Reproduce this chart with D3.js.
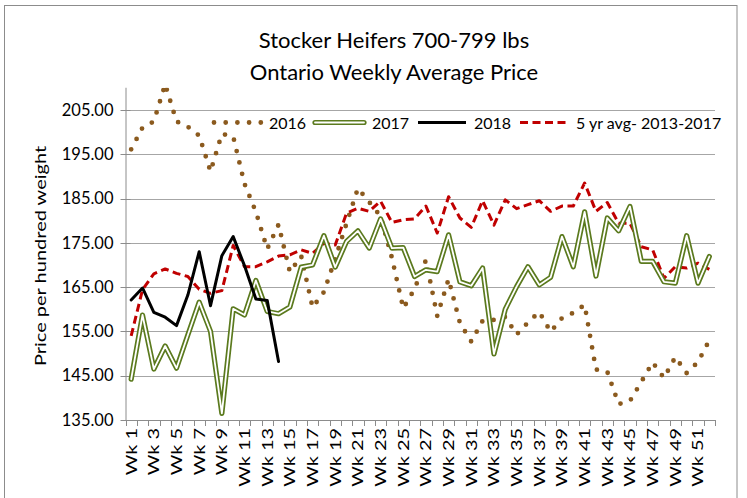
<!DOCTYPE html>
<html><head><meta charset="utf-8">
<script src="https://cdn.jsdelivr.net/npm/d3@7/dist/d3.min.js"></script>
<style>
html,body{margin:0;padding:0;background:#fff;}
text{font-family:Lato,"Open Sans",sans-serif;fill:#000;}
</style></head>
<body>
<svg id="chart" width="747" height="498"></svg>
<script>
const weeks = d3.range(1, 53).map(i => "Wk " + i);
const tickLabels = weeks.filter((d, i) => i % 2 === 0);
const yTicks = [135, 145, 155, 165, 175, 185, 195, 205];

const s2016 = [196.1, 201.0, 202.4, 210.8, 202.4, 201.2, 199.2, 191.1, 199.6, 199.0,
  188.3, 182.0, 173.6, 179.1, 168.4, 172.0, 160.4, 163.9, 171.4, 179.4,
  187.3, 184.2, 181.0, 171.6, 160.2, 164.6, 171.1, 158.5, 166.8, 156.9,
  152.7, 157.4, 157.6, 158.3, 154.3, 157.0, 159.4, 154.9, 158.0, 159.2,
  161.0, 146.4, 145.9, 138.6, 139.3, 143.6, 148.0, 144.5, 149.2, 145.6,
  148.1, 153.0];
const s2017 = [144.2, 158.7, 146.5, 151.7, 146.7, 154.2, 161.6, 155.0, 136.5, 160.1,
  158.7, 166.5, 159.5, 159.0, 160.5, 169.5, 170.0, 176.6, 169.5, 175.3,
  177.7, 173.8, 180.4, 173.8, 173.9, 167.4, 168.9, 168.5, 176.8, 166.2,
  165.3, 169.3, 149.9, 160.0, 165.1, 169.6, 165.5, 167.2, 176.4, 169.6,
  182.0, 167.5, 180.6, 177.7, 183.2, 170.8, 170.8, 166.2, 165.9, 176.6,
  165.9, 171.9];
const s2018 = [162.1, 164.8, 159.3, 158.2, 156.3, 163.2, 173.0, 160.8, 172.1, 176.4,
  169.8, 162.3, 162.0, 148.2];
const s5yr = [154.0, 164.4, 168.0, 169.1, 168.1, 167.4, 164.5, 163.6, 164.2, 174.4,
  169.6, 169.6, 170.7, 172.0, 172.3, 173.4, 172.6, 174.9, 174.5, 181.7,
  182.8, 182.1, 184.4, 179.6, 180.2, 180.4, 183.3, 177.2, 185.4, 180.6,
  178.5, 184.5, 179.0, 184.7, 182.7, 183.6, 184.5, 182.1, 183.3, 183.3,
  188.5, 182.1, 184.1, 179.4, 179.4, 174.1, 173.4, 167.0, 169.6, 169.3,
  170.4, 169.0];

const seriesNames = ["2016", "2017", "2018", "5 yr avg- 2013-2017"];

const svg = d3.select("#chart");
const L = 125.5, R = 715, T = 87.75, B = 420;

// outer frame
svg.append("rect").attr("x", 4.5).attr("y", 5.5).attr("width", 732.5).attr("height", 500)
  .attr("fill", "none").attr("stroke", "#8c8c8c").attr("stroke-width", 1);

const x = d3.scaleBand().domain(weeks).range([L, R]).paddingInner(0).paddingOuter(0);
const y = d3.scaleLinear().domain([135, 210]).range([B, T]);
const cx = d => x(d) + x.bandwidth() / 2;

// gridlines
svg.append("g").selectAll("line").data(yTicks.filter(v => v > 135)).join("line")
  .attr("x1", L).attr("x2", R).attr("y1", d => Math.round(y(d)) + 0.5).attr("y2", d => Math.round(y(d)) + 0.5)
  .attr("stroke", "#a6a6a6").attr("stroke-width", 1);

// y axis
const yAxis = d3.axisLeft(y).tickValues(yTicks).tickFormat(d3.format(".2f")).tickSize(0).tickPadding(12);
const gy = svg.append("g").attr("transform", `translate(${L},0)`).call(yAxis);
gy.select(".domain").remove();
gy.selectAll("text").style("font-size", "16.5px").style("font-family", "Lato");
svg.append("line").attr("x1", L + 0.5).attr("x2", L + 0.5).attr("y1", T).attr("y2", B)
  .attr("stroke", "#8c8c8c");
svg.append("g").selectAll("line").data(yTicks).join("line")
  .attr("x1", L - 5).attr("x2", L + 5)
  .attr("y1", d => Math.round(y(d)) + 0.5).attr("y2", d => Math.round(y(d)) + 0.5)
  .attr("stroke", "#8c8c8c");

// x axis
svg.append("line").attr("x1", L).attr("x2", R).attr("y1", B + 0.5).attr("y2", B + 0.5).attr("stroke", "#8c8c8c");
const bounds = weeks.map(w => x(w)).concat([R]);
svg.append("g").selectAll("line").data(bounds).join("line")
  .attr("x1", d => Math.round(d) + 0.5).attr("x2", d => Math.round(d) + 0.5)
  .attr("y1", B).attr("y2", B + 6).attr("stroke", "#8c8c8c");
svg.append("g").selectAll("text").data(tickLabels).join("text")
  .attr("transform", d => `translate(${cx(d) + 5.5},${B + 8}) rotate(-90) scale(1.33,1)`)
  .attr("text-anchor", "end").style("font-size", "15px").text(d => d);

// clip
svg.append("clipPath").attr("id", "plot").append("rect")
  .attr("x", L).attr("y", T).attr("width", R - L).attr("height", B - T);
const plot = svg.append("g").attr("clip-path", "url(#plot)");

const line = d3.line().x((d, i) => cx(weeks[i])).y(d => y(d));

const brown = "#8b5a1e", green = "#5b7a1e", red = "#c00000";

// 2016 dotted
plot.append("path").attr("d", line(s2016)).attr("fill", "none")
  .attr("stroke", brown).attr("stroke-width", 4.8).attr("stroke-linecap", "round")
  .attr("stroke-dasharray", "0 11.7");
// 5-yr dashed
plot.append("path").attr("d", line(s5yr)).attr("fill", "none")
  .attr("stroke", red).attr("stroke-width", 3).attr("stroke-dasharray", "8 4.5")
  .attr("stroke-linejoin", "round");
// 2017 double
plot.append("path").attr("d", line(s2017)).attr("fill", "none")
  .attr("stroke", green).attr("stroke-width", 5.2).attr("stroke-linejoin", "round").attr("stroke-linecap", "round");
plot.append("path").attr("d", line(s2017)).attr("fill", "none")
  .attr("stroke", "#fff").attr("stroke-width", 1.8).attr("stroke-linejoin", "round").attr("stroke-linecap", "round");
// 2018 solid
plot.append("path").attr("d", line(s2018)).attr("fill", "none")
  .attr("stroke", "#000").attr("stroke-width", 3).attr("stroke-linejoin", "round").attr("stroke-linecap", "round");

// legend
const ly = 122.5;
const legPos = [[214, 261, 269], [315, 364, 372], [418, 466, 474], [520, 569, 576]];
const lg = svg.append("g");
lg.append("line").attr("x1", legPos[0][0]).attr("x2", legPos[0][1]).attr("y1", ly).attr("y2", ly)
  .attr("stroke", brown).attr("stroke-width", 4.8).attr("stroke-linecap", "round").attr("stroke-dasharray", "0 11.7");
lg.append("line").attr("x1", legPos[1][0]).attr("x2", legPos[1][1]).attr("y1", ly).attr("y2", ly)
  .attr("stroke", green).attr("stroke-width", 5.2).attr("stroke-linecap", "round");
lg.append("line").attr("x1", legPos[1][0]).attr("x2", legPos[1][1]).attr("y1", ly).attr("y2", ly)
  .attr("stroke", "#fff").attr("stroke-width", 1.8).attr("stroke-linecap", "round");
lg.append("line").attr("x1", legPos[2][0]).attr("x2", legPos[2][1]).attr("y1", ly).attr("y2", ly)
  .attr("stroke", "#000").attr("stroke-width", 3);
lg.append("line").attr("x1", legPos[3][0]).attr("x2", legPos[3][1]).attr("y1", ly).attr("y2", ly)
  .attr("stroke", red).attr("stroke-width", 3).attr("stroke-dasharray", "8 4.5");
lg.selectAll("text").data(seriesNames).join("text")
  .attr("x", (d, i) => legPos[i][2]).attr("y", ly + 6)
  .style("font-size", "16px").text(d => d);

// title
svg.append("text").attr("x", 394).attr("y", 48).attr("text-anchor", "middle")
  .style("font-size", "22px").text("Stocker Heifers 700-799 lbs");
svg.append("text").attr("x", 394).attr("y", 80).attr("text-anchor", "middle")
  .style("font-size", "22px").text("Ontario Weekly Average Price");

// y title
svg.append("text").attr("transform", "translate(46,256) rotate(-90) scale(1.25,1)").attr("text-anchor", "middle")
  .style("font-size", "16px").text("Price per hundred weight");
</script>
</body></html>
